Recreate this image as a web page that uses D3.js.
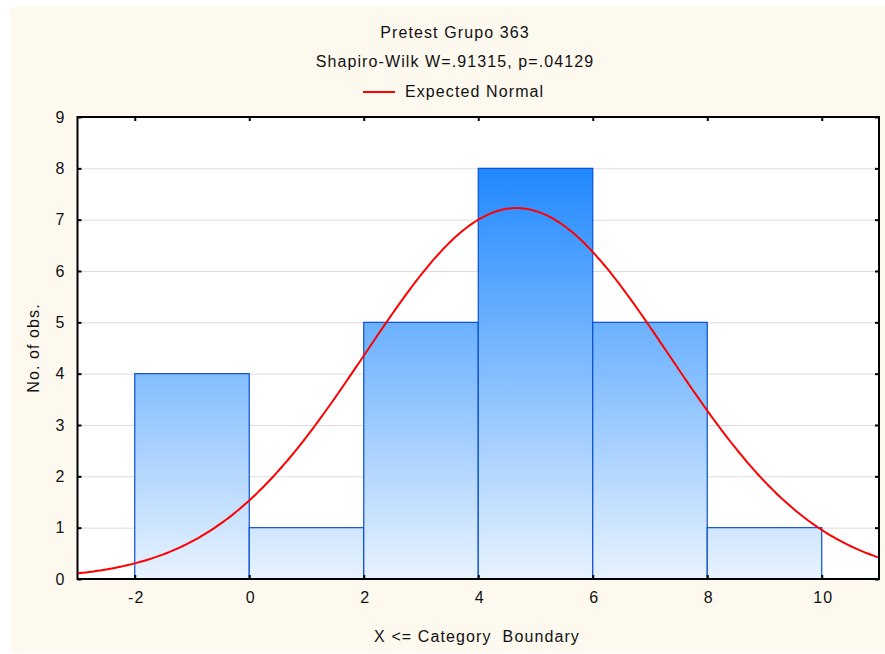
<!DOCTYPE html>
<html>
<head>
<meta charset="utf-8">
<script src="https://cdn.jsdelivr.net/npm/d3@7"></script>
<style>
  body { margin: 0; background: #fff; }
  text { font-family: "Liberation Sans", Arial, sans-serif; fill: #111; letter-spacing: 1.1px; }
</style>
</head>
<body>
<div id="chart"></div>
<script>
// histogram bins (upper boundaries) and counts
const binEdges = [-2, 0, 2, 4, 6, 8, 10];
const counts = [4, 1, 5, 8, 5, 1];
const xTicks = [-2, 0, 2, 4, 6, 8, 10];
const yTicks = [0, 1, 2, 3, 4, 5, 6, 7, 8, 9];

// expected normal fit
const fitMean = 4.67;
const fitSd = 2.65;

const width = 885, height = 654;
const margin = { left: 77.5, top: 117, right: 6, bottom: 75 };
const fs = 16;

const svg = d3.select("#chart").append("svg")
    .attr("width", width)
    .attr("height", height);

svg.append("rect")
    .attr("x", 11).attr("y", 7)
    .attr("width", width - 11).attr("height", height - 8)
    .attr("fill", "#fdf9ef");

const x = d3.scaleLinear().domain([-3, 11]).range([margin.left, width - margin.right]);
const y = d3.scaleLinear().domain([0, 9]).range([height - margin.bottom, margin.top]);

const defs = svg.append("defs");
const grad = defs.append("linearGradient")
    .attr("id", "barGrad")
    .attr("gradientUnits", "userSpaceOnUse")
    .attr("x1", 0).attr("x2", 0)
    .attr("y1", y(9)).attr("y2", y(0));
grad.append("stop").attr("offset", 0).attr("stop-color", "#077bff");
grad.append("stop").attr("offset", 1).attr("stop-color", "#e8f3fe");

// plot area
svg.append("rect")
    .attr("x", x(-3)).attr("y", y(9))
    .attr("width", x(11) - x(-3)).attr("height", y(0) - y(9))
    .attr("fill", "#fff");

// gridlines
svg.append("g")
    .selectAll("line")
    .data(yTicks.slice(1, -1))
    .enter().append("line")
    .attr("x1", x(-3)).attr("x2", x(11))
    .attr("y1", d => y(d) + 0.5).attr("y2", d => y(d) + 0.5)
    .attr("stroke", "#dcdcdc")
    .attr("stroke-width", 1);

// bars
const bins = counts.map((c, i) => ({ x0: binEdges[i], x1: binEdges[i + 1], n: c }));
svg.append("g")
    .selectAll("rect")
    .data(bins)
    .enter().append("rect")
    .attr("x", d => x(d.x0))
    .attr("y", d => y(d.n))
    .attr("width", d => x(d.x1) - x(d.x0))
    .attr("height", d => y(0) - y(d.n))
    .attr("fill", "url(#barGrad)")
    .attr("stroke", "#0a4fd0")
    .attr("stroke-width", 1.2);

// expected normal curve
const total = d3.sum(counts);
const binW = 2;
const curveX = d3.range(-3, 11.001, 0.05);
const curve = curveX.map(v => [v,
    total * binW / (fitSd * Math.sqrt(2 * Math.PI)) * Math.exp(-0.5 * ((v - fitMean) / fitSd) ** 2)]);

svg.append("path")
    .datum(curve)
    .attr("fill", "none")
    .attr("stroke", "#ff0000")
    .attr("stroke-width", 2)
    .attr("d", d3.line().x(d => x(d[0])).y(d => y(d[1])));

// axes: ticks pointing inward on all four sides
const tickSize = 4;
svg.append("g")
    .attr("transform", `translate(0,${y(0)})`)
    .call(d3.axisBottom(x).tickValues(xTicks).tickSizeInner(-tickSize).tickSizeOuter(0).tickPadding(13)
        .tickFormat(d => String(d)))
    .call(g => g.select(".domain").remove())
    .call(g => g.selectAll("text").attr("font-size", fs).attr("fill", "#111").attr("dx", 1));

svg.append("g")
    .attr("transform", `translate(0,${y(9)})`)
    .call(d3.axisTop(x).tickValues(xTicks).tickSizeInner(-tickSize).tickSizeOuter(0).tickFormat(""))
    .call(g => g.select(".domain").remove());

svg.append("g")
    .attr("transform", `translate(${x(-3)},0)`)
    .call(d3.axisLeft(y).tickValues(yTicks).tickSizeInner(-tickSize).tickSizeOuter(0).tickPadding(12))
    .call(g => g.select(".domain").remove())
    .call(g => g.selectAll("text").attr("font-size", fs).attr("fill", "#111"));

svg.append("g")
    .attr("transform", `translate(${x(11)},0)`)
    .call(d3.axisRight(y).tickValues(yTicks).tickSizeInner(-tickSize).tickSizeOuter(0).tickFormat(""))
    .call(g => g.select(".domain").remove());

svg.selectAll(".tick line").attr("stroke", "#000").attr("stroke-width", 2);

// frame
svg.append("rect")
    .attr("x", x(-3)).attr("y", y(9))
    .attr("width", x(11) - x(-3)).attr("height", y(0) - y(9))
    .attr("fill", "none")
    .attr("stroke", "#000")
    .attr("stroke-width", 2);

// titles
svg.append("text").attr("x", 455).attr("y", 38)
    .attr("text-anchor", "middle").attr("font-size", fs)
    .text("Pretest Grupo 363");
svg.append("text").attr("x", 455).attr("y", 67)
    .attr("text-anchor", "middle").attr("font-size", fs)
    .text("Shapiro-Wilk W=.91315, p=.04129");

// legend
svg.append("line")
    .attr("x1", 363).attr("x2", 395)
    .attr("y1", 92).attr("y2", 92)
    .attr("stroke", "#ff0000").attr("stroke-width", 2);
svg.append("text").attr("x", 405).attr("y", 97)
    .attr("font-size", fs)
    .text("Expected Normal");

// axis titles
svg.append("text").attr("x", 477).attr("y", 642)
    .attr("text-anchor", "middle").attr("font-size", fs)
    .attr("xml:space", "preserve")
    .text("X <= Category  Boundary");
svg.append("text")
    .attr("transform", `translate(39,${(y(0) + y(9)) / 2}) rotate(-90)`)
    .attr("text-anchor", "middle").attr("font-size", fs)
    .text("No. of obs.");
</script>
</body>
</html>
